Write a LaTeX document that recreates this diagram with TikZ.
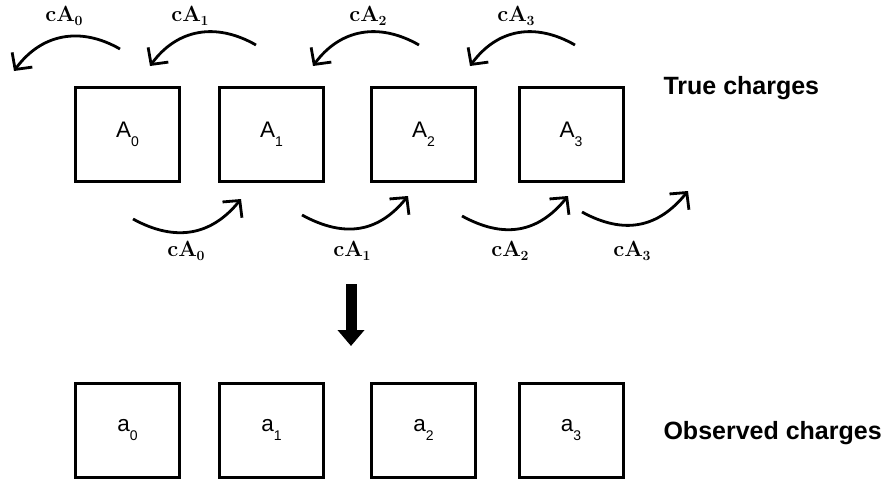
\documentclass[tikz,border=0pt]{standalone}
\usepackage{fontspec}
\newfontfamily\lsans{Liberation Sans}
\usetikzlibrary{arrows.meta}
\newcommand{\boxlab}[2]{{\lsans\fontsize{22.5}{22.5}\selectfont #1\raisebox{-0.42em}{\fontsize{14}{14}\selectfont #2}}}
\newcommand{\flowlab}[1]{{\fontsize{22}{22}\selectfont\bfseries cA\kern-0.5pt\raisebox{-0.45ex}{\fontsize{14}{14}\selectfont\bfseries #1}}}
\begin{document}
\begin{tikzpicture}[x=1pt,y=-1pt,
  cell/.style={draw,line width=3pt,minimum width=104pt,minimum height=94pt,inner sep=0pt},
  flow/.style={line width=2.8pt,-{Straight Barb[length=12pt,width=25pt,line width=2.8pt]}},
  bigarrow/.style={line width=11pt,-{Triangle[length=16pt,width=26pt]}},
  title/.style={font=\lsans\bfseries\fontsize{25}{25}\selectfont,anchor=west}]
\useasboundingbox (0,0) rectangle (887,485);
% top row
\node[cell] (A0) at (127.5,134.5) {\boxlab{A}{0}};
\node[cell] (A1) at (271.5,134.5) {\boxlab{A}{1}};
\node[cell] (A2) at (423.5,134.5) {\boxlab{A}{2}};
\node[cell] (A3) at (571,134.5) {\boxlab{A}{3}};
% bottom row
\node[cell] (a0) at (127.5,430) {\boxlab{a}{0}};
\node[cell] (a1) at (271.5,430) {\boxlab{a}{1}};
\node[cell] (a2) at (423.5,430) {\boxlab{a}{2}};
\node[cell] (a3) at (571,430) {\boxlab{a}{3}};
% titles
\node[title] (tc) at (660,88) {True charges};
\node[title] (oc) at (660,433) {Observed charges};
% big arrow
\coordinate (bs) at (351,284);
\coordinate (be) at (351,346);
\draw[bigarrow] (bs) -- (be);
% top leftward flows
\coordinate (t0s) at (120,49); \coordinate (t0e) at (14,71);
\coordinate (t1s) at (256,45); \coordinate (t1e) at (150,66);
\coordinate (t2s) at (419,45); \coordinate (t2e) at (313,66);
\coordinate (t3s) at (575,45); \coordinate (t3e) at (470,66);
\foreach \s/\e in {t0s/t0e,t1s/t1e,t2s/t2e,t3s/t3e}
  \draw[flow] (\s) .. controls +(-40,-23) and +(27,-37) .. (\e);
\node (l0) at (64,16) {\flowlab{0}};
\node (l1) at (190,16) {\flowlab{1}};
\node (l2) at (368,16) {\flowlab{2}};
\node (l3) at (516,16) {\flowlab{3}};
% bottom rightward flows
\coordinate (b0s) at (133,219); \coordinate (b0e) at (241,199);
\coordinate (b1s) at (302,215); \coordinate (b1e) at (408,196);
\coordinate (b2s) at (462,216); \coordinate (b2e) at (568,196);
\coordinate (b3s) at (582,212); \coordinate (b3e) at (688,191);
\foreach \s/\e in {b0s/b0e,b1s/b1e,b2s/b2e,b3s/b3e}
  \draw[flow] (\s) .. controls +(42,23) and +(-30,37) .. (\e);
\node (m0) at (186,251) {\flowlab{0}};
\node (m1) at (352,251) {\flowlab{1}};
\node (m2) at (510,251) {\flowlab{2}};
\node (m3) at (632,251) {\flowlab{3}};
\end{tikzpicture}
\end{document}
